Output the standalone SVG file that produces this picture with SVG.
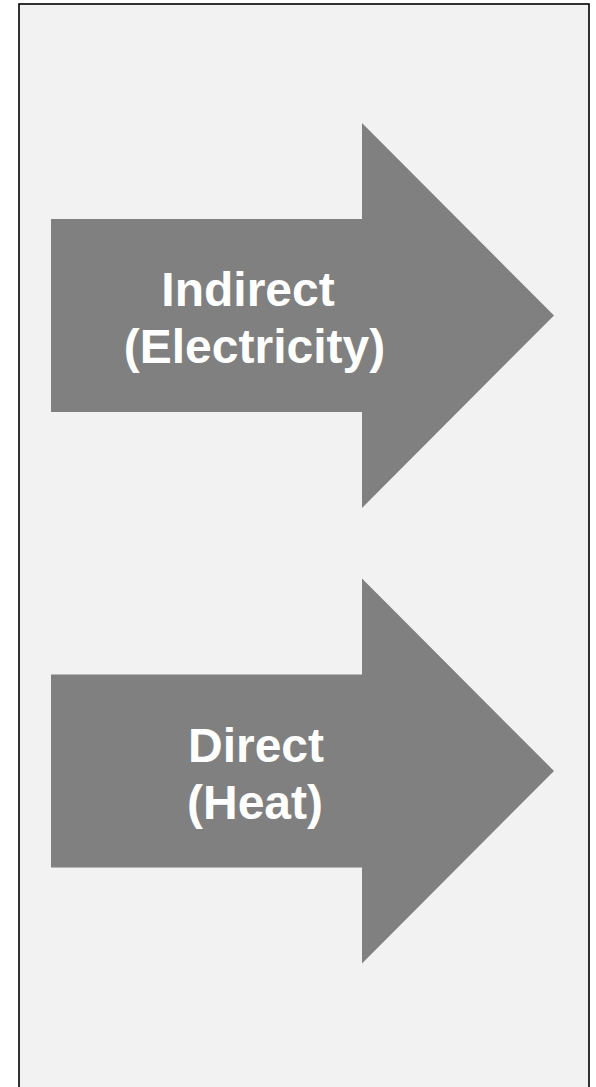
<svg xmlns="http://www.w3.org/2000/svg" width="596" height="1087" viewBox="0 0 596 1087">
<style>
.bg{fill:#f2f2f2;stroke:#000;stroke-width:1.6}
.arrow{fill:#808080;stroke:none}
.lbl{font-family:"Liberation Sans",Arial,sans-serif;font-weight:bold;font-size:48px;fill:#fff;text-anchor:middle}
</style>
<rect class="bg" x="19" y="4" width="570" height="1100"/>
<g id="indirect">
<polygon class="arrow" points="51,219 362,219 362,123 554,315.5 362,508 362,412 51,412"/>
<text class="lbl" x="248" y="306">Indirect</text>
<text class="lbl" x="254.5" y="363">(Electricity)</text>
</g>
<g id="direct">
<polygon class="arrow" points="51,674.5 362,674.5 362,578.5 554,771 362,963.5 362,867.5 51,867.5"/>
<text class="lbl" x="256" y="762">Direct</text>
<text class="lbl" x="255" y="819">(Heat)</text>
</g>
<g id="connectors"/>
</svg>
